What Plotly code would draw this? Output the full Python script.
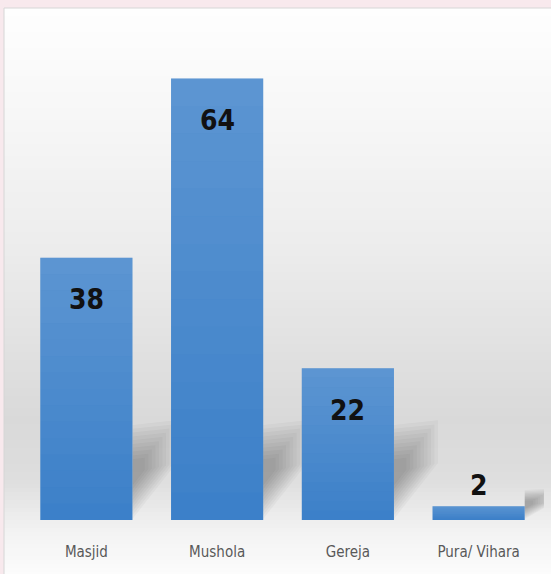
import plotly.graph_objects as go
import numpy as np

categories = ["Masjid", "Mushola", "Gereja", "Pura/ Vihara"]
values = [38, 64, 22, 2]

W, H = 551, 574
ML, MR, MT, MB = 21, 7, 37, 54
YMAX = 70
BARW = 0.705
plot_h = H - MT - MB
plot_w = W - ML - MR
XU = 4.0 / plot_w          # x data units per pixel
YU = YMAX / plot_h         # y data units per pixel

def py_to_paper(py):
    return (H - MB - py) / plot_h

def px_to_paper(px):
    return (px - ML) / plot_w

fig = go.Figure()
fig.add_trace(go.Bar(
    x=categories, y=values,
    marker=dict(color="#3C80C9", line=dict(width=0)),
    width=BARW,
    hoverinfo="x+y",
))

shapes = []
# panel background gradient (stripes)
stops = [(8, 254), (100, 248), (250, 236), (420, 217), (480, 222), (530, 242), (574, 252)]
for y0 in range(8, 574, 4):
    y1 = min(y0 + 4, 574)
    g = int(round(np.interp(y0 + 2, [s[0] for s in stops], [s[1] for s in stops])))
    shapes.append(dict(type="rect", xref="paper", yref="paper",
                       x0=px_to_paper(4), x1=px_to_paper(552),
                       y0=py_to_paper(y1), y1=py_to_paper(y0),
                       fillcolor=f"rgb({g},{g},{g})", line=dict(width=0), layer="below"))
# panel border
shapes.append(dict(type="rect", xref="paper", yref="paper",
                   x0=px_to_paper(4), x1=px_to_paper(552),
                   y0=py_to_paper(575), y1=py_to_paper(8),
                   fillcolor="rgba(0,0,0,0)", line=dict(width=1, color="#D6D6D6"), layer="below"))

# soft cast shadows to the right of bars
for i, v in enumerate(values):
    right = i + BARW / 2
    hpx = min(v / YU, 95) if v > 5 else 30
    wpx = 44 if v > 5 else 30
    cx, cy = 0.0, -hpx * 0.5
    for k in range(10):
        s = 1 - 0.08 * k
        pts = [(0, -1), (0, -hpx), (wpx, -hpx * 1.05), (wpx, -hpx * 0.6)]
        pts = [(cx + (px - cx) * s, cy + (py - cy) * s) for px, py in pts]
        path = "M " + " L ".join(f"{right + px * XU},{-py * YU}" for px, py in pts) + " Z"
        shapes.append(dict(type="path", xref="x", yref="y", path=path,
                           fillcolor="rgba(40,40,40,0.035)", line=dict(width=0), layer="below"))

# light gradient overlay on bars (lighter towards top)
for i, v in enumerate(values):
    n = 16
    for k in range(n):
        a = 0.17 * (k + 0.5) / n
        shapes.append(dict(type="rect", xref="x", yref="y",
                           x0=i - BARW / 2, x1=i + BARW / 2,
                           y0=v * k / n, y1=v * (k + 1) / n,
                           fillcolor=f"rgba(255,255,255,{a:.3f})", line=dict(width=0), layer="above"))

annotations = []
for c, v in zip(categories, values):
    annotations.append(dict(x=c, y=v, yshift=(-42 if v > 10 else 21), text=str(v), showarrow=False,
                            font=dict(family="DejaVu Sans Condensed, DejaVu Sans", size=28,
                                      color="#111111", weight="bold"),
                            xanchor="center", yanchor="middle"))

fig.update_layout(
    width=W, height=H,
    margin=dict(l=ML, r=MR, t=MT, b=MB, autoexpand=False),
    paper_bgcolor="#F8E9ED",
    plot_bgcolor="rgba(0,0,0,0)",
    showlegend=False,
    shapes=shapes,
    annotations=annotations,
    bargap=0.295,
    xaxis=dict(showgrid=False, zeroline=False, showline=False, ticks="", automargin=False,
               tickfont=dict(family="DejaVu Sans Condensed, DejaVu Sans", size=15, color="#595959"),
               ticklabelstandoff=21, range=[-0.5, 3.5]),
    yaxis=dict(range=[0, YMAX], visible=False, showgrid=False, zeroline=False, automargin=False),
)

fig.write_html("out.html", config={"displayModeBar": False},
               post_script="document.body.style.margin='0';document.body.style.overflow='hidden';")
